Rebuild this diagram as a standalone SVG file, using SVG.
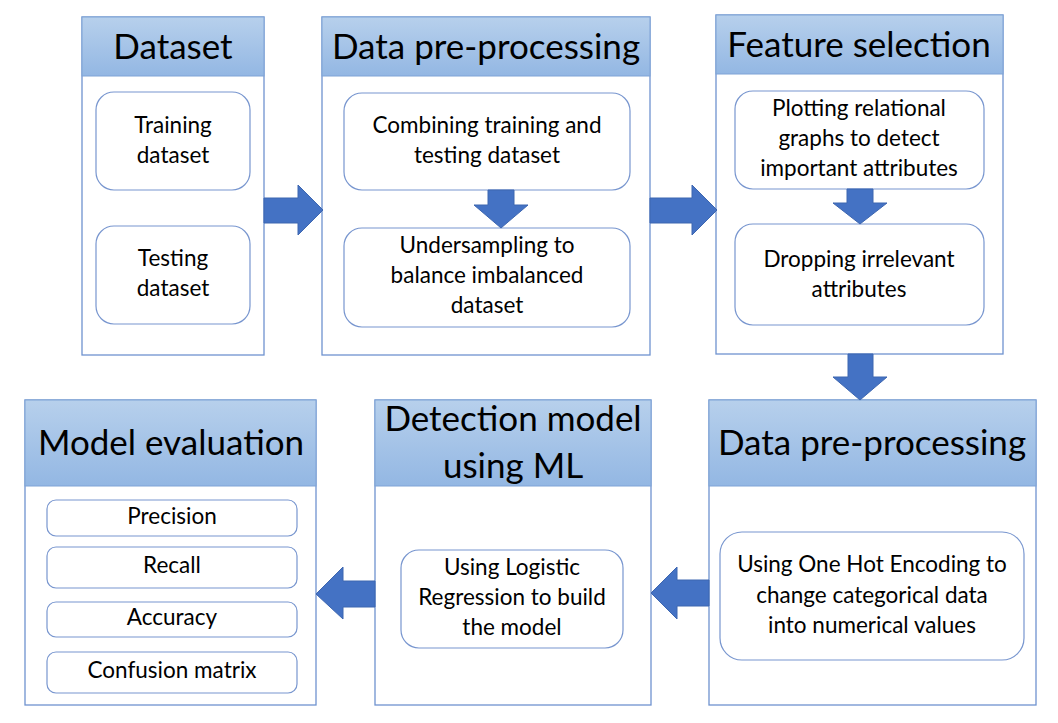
<svg xmlns="http://www.w3.org/2000/svg" width="1058" height="723" viewBox="0 0 1058 723">
<defs>
<linearGradient id="hg" x1="0" y1="0" x2="0" y2="1">
<stop offset="0" stop-color="#b7d0ec"/>
<stop offset="1" stop-color="#93b7e3"/>
</linearGradient>
<style>
.panel{fill:#ffffff;stroke:#6f93cf;stroke-width:1.3}
.head{fill:url(#hg);stroke:#7fa3d6;stroke-width:1}
.inner{fill:#ffffff;stroke:#7896cf;stroke-width:1.2}
.arrow{fill:#4472c4;stroke:#3d66b0;stroke-width:1}
.ht{font-family:Lato,"Liberation Sans",sans-serif;font-size:35px;fill:#000;text-anchor:middle;dominant-baseline:central}
.t{font-family:Lato,"Liberation Sans",sans-serif;font-size:22.5px;fill:#000;text-anchor:middle;dominant-baseline:central}
</style>
</defs>
<rect width="1058" height="723" fill="#ffffff"/>

<g id="dataset">
<rect class="panel" x="82" y="17" width="182" height="338"/>
<rect class="head" x="82" y="17" width="182" height="59"/>
<text class="ht" x="173" y="45">Dataset</text>
<rect class="inner" x="96" y="92" width="154" height="98" rx="18"/>
<text class="t" x="173" y="124">Training</text>
<text class="t" x="173" y="154">dataset</text>
<rect class="inner" x="96" y="226" width="154" height="98" rx="18"/>
<text class="t" x="173" y="257">Testing</text>
<text class="t" x="173" y="287">dataset</text>
</g>

<g id="preprocessing1">
<rect class="panel" x="322" y="17" width="328" height="338"/>
<rect class="head" x="322" y="17" width="328" height="59"/>
<text class="ht" x="486" y="45">Data pre-processing</text>
<rect class="inner" x="344" y="93" width="286" height="97" rx="18"/>
<text class="t" x="487" y="124">Combining training and</text>
<text class="t" x="487" y="154">testing dataset</text>
<rect class="inner" x="344" y="228" width="286" height="99" rx="18"/>
<text class="t" x="487" y="244">Undersampling to</text>
<text class="t" x="487" y="274">balance imbalanced</text>
<text class="t" x="487" y="304">dataset</text>
</g>

<g id="featureselection">
<rect class="panel" x="716" y="15" width="287" height="339"/>
<rect class="head" x="716" y="15" width="287" height="59"/>
<text class="ht" x="859" y="43">Feature selection</text>
<rect class="inner" x="735" y="91" width="249" height="98" rx="18"/>
<text class="t" x="859" y="107">Plotting relational</text>
<text class="t" x="859" y="137">graphs to detect</text>
<text class="t" x="859" y="167">important attributes</text>
<rect class="inner" x="735" y="224" width="249" height="101" rx="18"/>
<text class="t" x="859" y="258">Dropping irrelevant</text>
<text class="t" x="859" y="288">attributes</text>
</g>

<g id="preprocessing2">
<rect class="panel" x="709" y="400" width="327" height="305"/>
<rect class="head" x="709" y="400" width="327" height="86"/>
<text class="ht" x="872" y="441">Data pre-processing</text>
<rect class="inner" x="720" y="532" width="304" height="128" rx="22"/>
<text class="t" x="872" y="563">Using One Hot Encoding to</text>
<text class="t" x="872" y="594">change categorical data</text>
<text class="t" x="872" y="624">into numerical values</text>
</g>

<g id="detection">
<rect class="panel" x="375" y="400" width="276" height="305"/>
<rect class="head" x="375" y="400" width="276" height="86"/>
<text class="ht" x="513" y="417">Detection model</text>
<text class="ht" x="513" y="464">using ML</text>
<rect class="inner" x="401" y="550" width="222" height="98" rx="18"/>
<text class="t" x="512" y="566">Using Logistic</text>
<text class="t" x="512" y="596">Regression to build</text>
<text class="t" x="512" y="626">the model</text>
</g>

<g id="evaluation">
<rect class="panel" x="25" y="400" width="291" height="305"/>
<rect class="head" x="25" y="400" width="291" height="86"/>
<text class="ht" x="171" y="441">Model evaluation</text>
<rect class="inner" x="47" y="500" width="250" height="36" rx="9"/>
<text class="t" x="172" y="515">Precision</text>
<rect class="inner" x="47" y="547" width="250" height="41" rx="9"/>
<text class="t" x="172" y="564">Recall</text>
<rect class="inner" x="47" y="602" width="250" height="35" rx="9"/>
<text class="t" x="172" y="616">Accuracy</text>
<rect class="inner" x="47" y="652" width="250" height="41" rx="9"/>
<text class="t" x="172" y="669">Confusion matrix</text>
</g>

<g id="connectors">
<polygon class="arrow" points="264,198 298,198 298,185 323,210 298,235 298,223 264,223"/>
<polygon class="arrow" points="650,198 692,198 692,185 717,210 692,235 692,223 650,223"/>
<polygon class="arrow" points="488,190 514,190 514,205 528,205 501,228 474,205 488,205"/>
<polygon class="arrow" points="847,189 873,189 873,203 887,203 860,224 833,203 847,203"/>
<polygon class="arrow" points="848,354 873,354 873,377 887,377 860,400 833,377 848,377"/>
<polygon class="arrow" points="709,580 677,580 677,567 651,593 677,619 677,606 709,606"/>
<polygon class="arrow" points="375,581 343,581 343,567 316,594 343,619 343,607 375,607"/>
</g>
</svg>
